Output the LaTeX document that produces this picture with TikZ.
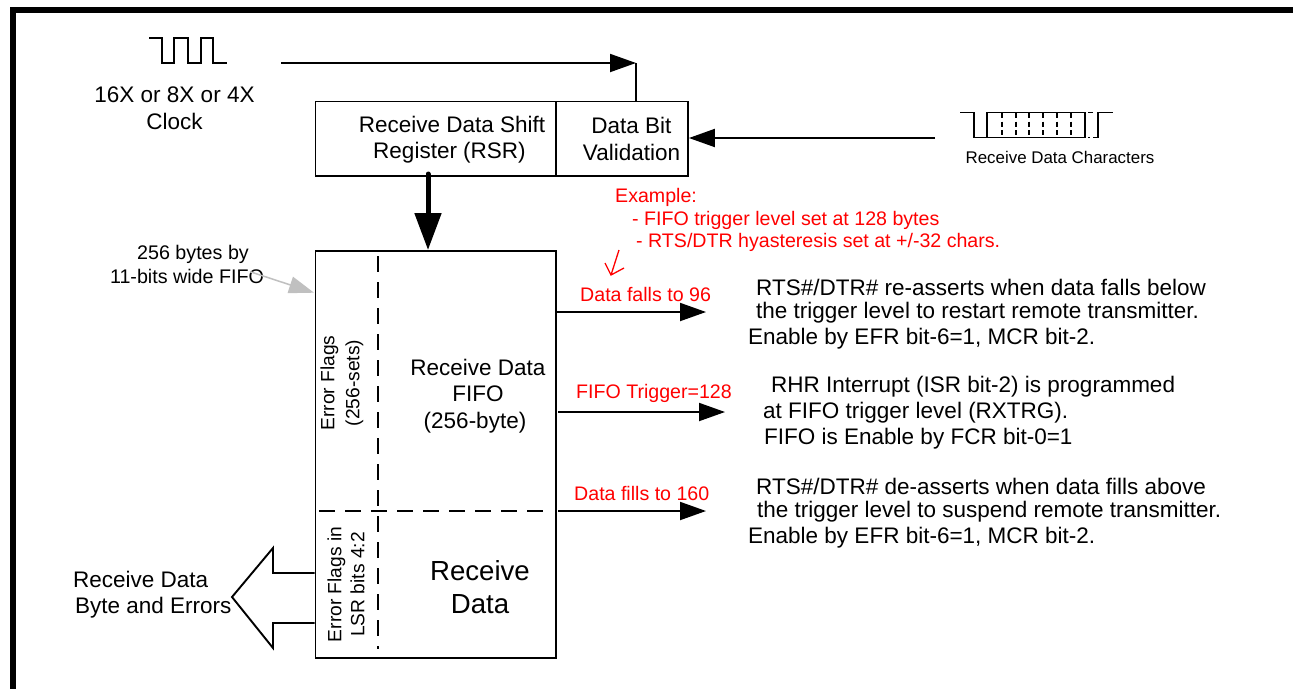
\documentclass[tikz,border=0pt]{standalone}
\usepackage{fontspec}
\setmainfont{Liberation Sans}
\usetikzlibrary{arrows.meta}
\definecolor{redtxt}{RGB}{255,0,0}
\definecolor{greyarrow}{RGB}{192,192,192}
\tikzset{
  x=1pt,y=-1pt,
  box/.style={draw=black,line width=1.9pt},
  wire/.style={draw=black,line width=1.9pt},
  sig/.style={draw=black,line width=1.5pt},
  dashline/.style={draw=black,line width=1.9pt,dash pattern=on 15.5pt off 10.5pt},
  tip/.style={-{Triangle[length=26pt,width=18pt]}},
  lbl/.style={font=\fontsize{22.5pt}{26pt}\selectfont,align=left,inner sep=0pt,anchor=west},
  clbl/.style={font=\fontsize{22.5pt}{26.5pt}\selectfont,align=center,inner sep=0pt},
  redlbl/.style={font=\fontsize{19.6pt}{22.5pt}\selectfont,text=redtxt,inner sep=0pt,anchor=west},
}
\begin{document}
\begin{tikzpicture}
\useasboundingbox (0,0) rectangle (1293,689);
% frame
\fill[white] (0,0) rectangle (1293,689);
\fill[black] (10,7) rectangle (1293,13);
\fill[black] (10,7) rectangle (16,689);
% clock
\draw[sig] (149,38) -- (162,38) -- (162,63) -- (174,63) -- (174,38) -- (188,38) -- (188,63) -- (201,63) -- (201,38) -- (213,38) -- (213,63) -- (227,63);
\node[clbl] (clk) at (174.5,108) {16X or 8X or 4X\\Clock};
% RSR
\node[box,minimum width=240.5pt,minimum height=74.5pt,anchor=north west,inner sep=0pt] (rsr) at (314.5,100.5) {};
\node[box,minimum width=132pt,minimum height=74.5pt,anchor=north west,inner sep=0pt] (dbv) at (555,100.5) {};
\node[clbl] (rsrt) at (452,139.5) {Receive Data Shift\\Register (RSR)\hspace*{5pt}};
\node[clbl] (dbvt) at (631.5,139) {Data Bit\\Validation};
\coordinate (clkstart) at (281,63);
\coordinate (clkend) at (636,63);
\draw[wire,tip] (clkstart) -- (clkend);
\draw[wire] (clkend) -- (clkend |- dbv.north);
% receive data characters waveform
\draw[sig] (960,112.5) -- (974,112.5) -- (974,137.5) -- (1085,137.5) -- (1085,112.5) -- (987,112.5) -- (987,137.5);
\foreach \x in {1002,1016,1029,1043,1057,1071}{
  \draw[sig,dash pattern=on 5pt off 3.5pt] (\x,113) -- (\x,137);
}
\draw[sig] (1088,112.5) -- (1093,112.5) (1088,137.5) -- (1090,137.5);
\draw[sig] (1093,137.5) -- (1098,137.5) -- (1098,112.5) -- (1113,112.5);
\node[font=\fontsize{16.9pt}{20pt}\selectfont,inner sep=0pt] (rdc) at (1060,157.5) {Receive Data Characters};
\coordinate (rs) at (935,138);
\draw[wire,tip] (rs) -- (dbv.east |- rs);
% thick arrow
\coordinate (fifotop) at (428,250);
\draw[line width=5pt,line cap=round,-{Triangle[length=37pt,width=26pt]}] (428,174) -- (fifotop);
% FIFO
\node[box,minimum width=240.5pt,minimum height=407pt,anchor=north west,inner sep=0pt] (fifo) at (314.5,250) {};
\draw[dashline] (377.7,256) -- (377.7,649);
\draw[dashline] (319,511) -- (548,511);
\node[clbl,rotate=90,font=\fontsize{19.2pt}{25pt}\selectfont] (ef1) at (342,383) {Error Flags\\(256-sets)};
\node[clbl,rotate=90,font=\fontsize{19.2pt}{23pt}\selectfont] (ef2) at (346,584.5) {Error Flags in\\LSR bits 4:2};
\node[clbl] (rdf) at (478,396) {Receive Data\\FIFO\hspace*{12pt}\\(256-byte)\hspace*{6pt}};
\node[clbl,font=\fontsize{27.6pt}{33pt}\selectfont] (rd) at (480,587) {Receive\\Data};
% fat arrow
\draw[wire,line join=miter] (314.5,573) -- (273,573) -- (273,548) -- (232,597) -- (273,648) -- (273,623) -- (314.5,623);
\node[clbl,align=left,anchor=west] (rdb) at (73,594.5) {Receive Data\\\hspace*{2pt}Byte and Errors};
% 256 bytes
\node[clbl,font=\fontsize{19.7pt}{24pt}\selectfont] (b256) at (187,264) {\hspace*{12pt}256 bytes by\\11-bits wide FIFO};
\draw[draw=greyarrow,line width=1.5pt,-{Triangle[length=25pt,width=17pt]},color=greyarrow] (250,271.7) -- (314,292.7);
% output arrows
\coordinate (o1) at (555,312);
\coordinate (o2) at (558,412);
\coordinate (o3) at (558,511);
\draw[wire,tip] (o1) -- (706,312);
\draw[wire,tip] (o2) -- (725,412);
\draw[wire,tip] (o3) -- (706,511);
\node[redlbl] (ex) at (615,197) {Example:};
\node[redlbl] (ex1) at (632,220) {- FIFO trigger level set at 128 bytes};
\node[redlbl] (ex2) at (636,242) {- RTS/DTR hyasteresis set at +/-32 chars.};
\draw[red,line width=1.3pt] (619,250) -- (611,275) (605,263) -- (611,275) -- (624,268);
\node[redlbl] (d96) at (580,294) {Data falls to 96};
\node[redlbl] (d128) at (576,393) {FIFO Trigger=128};
\node[redlbl] (d160) at (574,493) {Data fills to 160};
\node[lbl] (a1) at (756,287) {RTS\#/DTR\# re-asserts when data falls below};
\node[lbl] (a2) at (756,313) {the trigger level to restart remote transmitter.};
\node[lbl] (a3) at (748,339) {Enable by EFR bit-6=1, MCR bit-2.};
\node[lbl] (b1) at (771,387) {RHR Interrupt (ISR bit-2) is programmed};
\node[lbl] (b2) at (763,413) {at FIFO trigger level (RXTRG).};
\node[lbl] (b3) at (764,439) {FIFO is Enable by FCR bit-0=1};
\node[lbl] (c1) at (756,486) {RTS\#/DTR\# de-asserts when data fills above};
\node[lbl] (c2) at (757,512) {the trigger level to suspend remote transmitter.};
\node[lbl] (c3) at (748,538) {Enable by EFR bit-6=1, MCR bit-2.};
\end{tikzpicture}
\end{document}
